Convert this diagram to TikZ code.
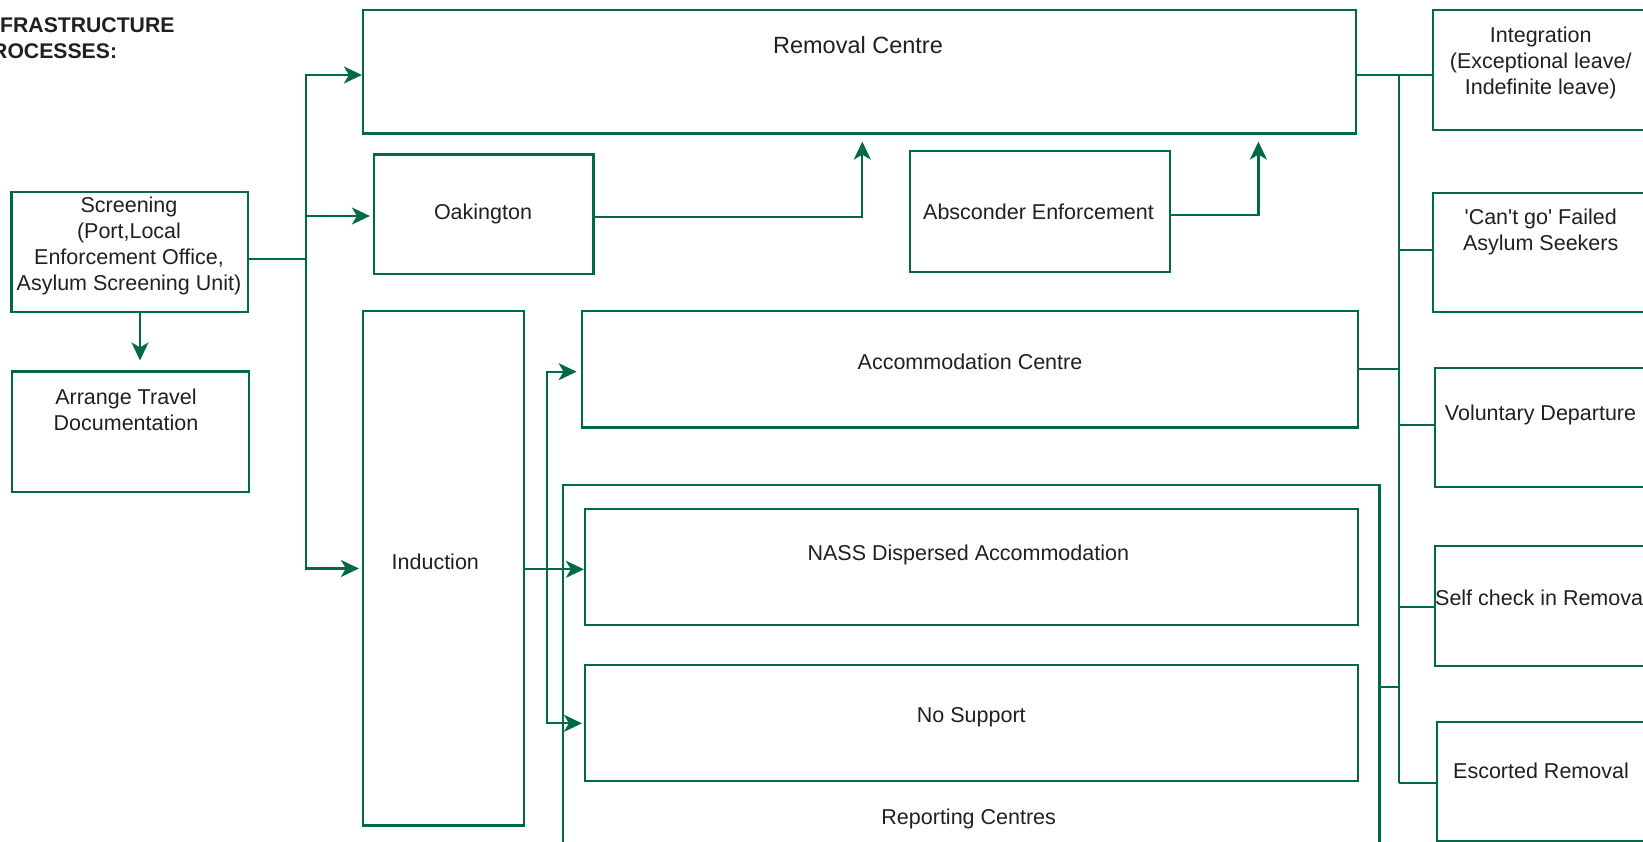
\documentclass[tikz,border=0pt]{standalone}
\usepackage{fontspec}
\setmainfont{Liberation Sans}[Ligatures=TeXOff]
\usetikzlibrary{arrows.meta}
\definecolor{dgreen}{RGB}{0,107,66}
\definecolor{dtext}{RGB}{35,31,32}
\tikzstyle{box}=[draw=dgreen,line width=2.2pt,rectangle,inner sep=0pt]
\tikzstyle{lbl}=[text=dtext,font=\fontsize{21.5}{25.8}\selectfont,align=center,inner sep=0pt]
\tikzstyle{ttl}=[text=dtext,font=\fontsize{21.2}{26}\selectfont\bfseries,inner sep=0pt,anchor=base west]
\tikzstyle{conn}=[draw=dgreen,line width=2.2pt]
\tikzstyle{arr}=[conn,-{Stealth[length=18pt,width=17pt,inset=5pt]}]

\begin{document}
\begin{tikzpicture}[x=1pt,y=-1pt]
    \useasboundingbox (0,0) rectangle (1643,842);
    \clip (0,0) rectangle (1643,842);
    \fill[white] (0,0) rectangle (1643,842);

    % boxes
    \node[box,minimum width=993pt,minimum height=123.5pt] (rc) at (859.5,71.75) {};
    \node[box,minimum width=236.5pt,minimum height=120.3pt] (scr) at (129.75,252.15) {};
    \node[box,minimum width=237pt,minimum height=120.5pt] (atd) at (130.5,431.75) {};
    \node[box,minimum width=219.5pt,minimum height=119.8pt] (oak) at (483.75,214.4) {};
    \node[box,minimum width=260pt,minimum height=120.7pt] (abs) at (1040,211.35) {};
    \node[box,minimum width=161pt,minimum height=514.5pt] (ind) at (443.5,568.25) {};
    \node[box,minimum width=776.6pt,minimum height=116.5pt] (acc) at (970,369.25) {};
    \node[box,minimum width=816.2pt,minimum height=374.7pt] (rep) at (971.4,672.65) {};
    \node[box,minimum width=773.3pt,minimum height=115.9pt] (nass) at (971.65,567.25) {};
    \node[box,minimum width=773.3pt,minimum height=116.2pt] (nos) at (971.65,722.9) {};
    \node[box,minimum width=214.7pt,minimum height=120pt] (integ) at (1540.65,70) {};
    \node[box,minimum width=215pt,minimum height=119.6pt] (cant) at (1540.5,252.5) {};
    \node[box,minimum width=212.7pt,minimum height=119.6pt] (vol) at (1541.65,427.5) {};
    \node[box,minimum width=213pt,minimum height=120pt] (self) at (1541.5,606) {};
    \node[box,minimum width=211.3pt,minimum height=118.7pt] (esc) at (1542.35,781.35) {};

    % texts
    \node[ttl] (ttl1) at (0,33) {FRASTRUCTURE};
    \node[ttl] (ttl2) at (-8,59) {ROCESSES:};
    \node[lbl,anchor=base,font=\fontsize{23.5}{28}\selectfont] (rct) at (858,54) {Removal Centre};
    \node[lbl] (scrt) at (129,246) {Screening\\(Port,Local\\Enforcement Office,\\Asylum Screening Unit)};
    \node[lbl] (atdt) at (126,409.5) {Arrange Travel\\Documentation};
    \node[lbl,anchor=base] (oakt) at (483,220) {Oakington};
    \node[lbl,anchor=base] (abst) at (1038.5,220) {Absconder Enforcement};
    \node[lbl,anchor=base] (indt) at (435.3,569) {Induction};
    \node[lbl,anchor=base] (acct) at (970,369.3) {Accommodation Centre};
    \node[lbl,anchor=base] (nasst) at (968.3,560.7) {NASS Dispersed Accommodation};
    \node[lbl,anchor=base] (nost) at (971.3,722.7) {No Support};
    \node[lbl,anchor=base] (rept) at (968.7,824) {Reporting Centres};
    \node[lbl] (integt) at (1540.7,63) {Integration\\(Exceptional leave/\\Indefinite leave)};
    \node[lbl] (cantt) at (1540.7,232) {'Can't go' Failed\\Asylum Seekers};
    \node[lbl,anchor=base] (volt) at (1540.5,420.7) {Voluntary Departure};
    \node[lbl,anchor=base] (selft) at (1541.5,605) {Self check in Removal};
    \node[lbl,anchor=base] (esct) at (1541,778.3) {Escorted Removal};

    % left trunk
    \coordinate (tk) at (306,259);
    \draw[conn] (scr.east |- tk) -- (tk);
    \draw[arr] (tk) |- (rc.west |- 0,75);
    \draw[arr,shorten >=3pt] (tk) |- (oak.west |- 0,216);
    \draw[arr,shorten >=3pt] (tk) |- (ind.west |- 0,568.5);
    \draw[arr,shorten >=10pt] (scr.south -| 140,0) -- (atd.north -| 140,0);

    % into removal centre
    \draw[arr,shorten >=7pt] (oak.east |- 0,216.7) -| (rc.south -| 862.3,0);
    \draw[arr,shorten >=7pt] (abs.east |- 0,215) -| (rc.south -| 1258.4,0);

    % induction
    \coordinate (ij) at (546.7,569.3);
    \draw[arr] (ind.east |- ij) -- (nass.west |- ij);
    \draw[arr,shorten >=4pt] (ij) |- (acc.west |- 0,371.7);
    \draw[arr,shorten >=2pt] (ij) |- (nos.west |- 0,723.3);

    % right bus
    \coordinate (bt) at (1399,75);
    \coordinate (bb) at (1399,783.3);
    \draw[conn] (rc.east |- bt) -- (integ.west |- bt);
    \draw[conn] (bt) -- (bb);
    \draw[conn] (acc.east |- 0,369.3) -- (bt |- 0,369.3);
    \draw[conn] (rep.east |- 0,687.3) -- (bt |- 0,687.3);
    \foreach \n/\y in {cant/250,vol/425,self/606.7,esc/783.3}
        \draw[conn] (bt |- 0,\y) -- (\n.west |- 0,\y);
\end{tikzpicture}
\end{document}
